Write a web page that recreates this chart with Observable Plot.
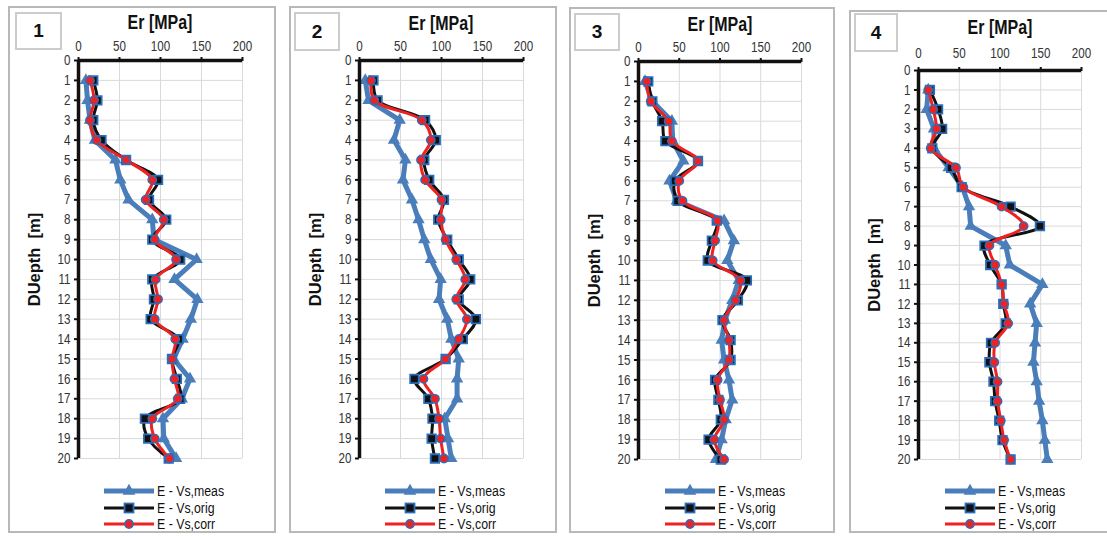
<!DOCTYPE html>
<html><head><meta charset="utf-8">
<script src="https://cdn.jsdelivr.net/npm/d3@7"></script>
<script src="https://cdn.jsdelivr.net/npm/@observablehq/plot@0.6"></script>
<style>
html,body{margin:0;padding:0;background:#fff;}
body{width:1107px;height:536px;position:relative;overflow:hidden;font-family:"Liberation Sans Narrow","Arial Narrow","Liberation Sans",Arial,sans-serif;}
.panel{position:absolute;border:2px solid #b8b8b8;box-sizing:border-box;}
.num{position:absolute;border:2px solid #cccccc;box-sizing:border-box;font:bold 19px "Liberation Sans",Arial,sans-serif;display:flex;align-items:center;justify-content:center;color:#111;}
.title{position:absolute;font-weight:bold;font-size:19.5px;line-height:20px;color:#111;transform:translateX(-50%) scaleX(0.82);white-space:nowrap;}
.chart{position:absolute;}
.leg{position:absolute;font-size:14px;line-height:16px;color:#111;display:flex;align-items:center;white-space:nowrap;}
.leg svg{margin-right:3px;}
.leg span{display:inline-block;transform:scaleX(0.88);transform-origin:left center;}
</style></head><body>
<script>
// ---- data ----
const depth = [1,2,3,4,5,6,7,8,9,10,11,12,13,14,15,16,17,18,19,20];
const depthTicks = [0,1,2,3,4,5,6,7,8,9,10,11,12,13,14,15,16,17,18,19,20];
const erTicks = [0,50,100,150,200];
const panelNames = ["1","2","3","4"];
const seriesNames = ["E - Vs,meas","E - Vs,orig","E - Vs,corr"];
const xTitle = "Er [MPa]";
const yTitle = "DUepth  [m]";

const meas1 = [9,11,14,20,45,51,61,90,92,144,117,145,137,127,116,136,126,103,104,119];
const orig1 = [18,23,18,28,58,97,86,107,90,124,90,92,88,122,114,120,124,81,85,110];
const corr1 = [14,19,14,22,58,90,82,104,93,119,94,97,93,118,114,117,121,90,93,111];

const meas2 = [7,11,49,42,56,53,64,72,79,87,99,97,107,112,121,119,119,104,108,112];
const orig2 = [17,22,80,93,79,85,103,96,107,121,135,121,142,126,105,67,84,89,88,92];
const corr2 = [14,18,76,87,75,80,100,99,105,118,129,118,131,121,105,78,92,97,99,103];

const meas3 = [8,17,41,42,55,38,47,105,117,109,123,115,106,102,105,111,115,107,102,95];
const orig3 = [12,17,29,33,73,45,48,96,90,85,133,122,103,113,113,94,98,101,86,101];
const corr3 = [10,15,37,41,73,50,54,97,94,91,125,119,105,111,111,97,100,105,93,105];

const meas4 = [12,10,19,19,37,54,62,64,107,112,152,137,145,143,141,145,148,152,155,158];
const orig4 = [14,24,29,17,40,53,113,149,81,88,102,104,107,89,87,92,94,99,103,113];
const corr4 = [12,18,22,15,46,55,102,129,87,94,102,105,110,94,93,97,97,101,105,113];

const measAll = [meas1, meas2, meas3, meas4];
const origAll = [orig1, orig2, orig3, orig4];
const corrAll = [corr1, corr2, corr3, corr4];

// ---- styling / layout ----
const BLUE = "#4a7ebb", OUT = "#2a6ebb", RED = "#ee2222", BLACK = "#111";
const layout = [
  {left:8,   top:6,  right:276,  x0:78,  x1:242,  y0:60, y1:458, titleY:22, tickPad:7,  num:[15,12,47,38]},
  {left:289, top:6,  right:557,  x0:359, x1:523,  y0:60, y1:458, titleY:23, tickPad:7,  num:[294,12,46,39]},
  {left:569, top:7,  right:835,  x0:638, x1:801,  y0:61, y1:459, titleY:24, tickPad:7,  num:[574,13,46,38]},
  {left:849, top:10, right:1109, x0:918, x1:1081, y0:70, y1:459, titleY:27, tickPad:10, num:[854,13,44,39]}
];
const legendRows = [491, 507.5, 524];
const panelBottom = 533;

function el(tag, cls, css, text){
  const e = document.createElement(tag);
  if (cls) e.className = cls;
  Object.assign(e.style, css);
  if (text != null) e.textContent = text;
  document.body.appendChild(e);
  return e;
}

layout.forEach((L, i) => {
  el("div","panel",{left:L.left+"px",top:L.top+"px",width:(L.right-L.left)+"px",height:(panelBottom-L.top)+"px"});
  el("div","num",{left:L.num[0]+"px",top:L.num[1]+"px",width:L.num[2]+"px",height:L.num[3]+"px"}, panelNames[i]);
  el("div","title",{left:((L.x0+L.x1)/2)+"px",top:(L.titleY-10)+"px"}, xTitle);

  const rows = depth.map((d,j)=>({d, meas:measAll[i][j], orig:origAll[i][j], corr:corrAll[i][j]}));
  const svgLeft = L.left+2, svgRight = L.right-2, svgTop = L.y0-32, svgBottom = L.y1+10;
  const chart = Plot.plot({
    width: svgRight-svgLeft, height: svgBottom-svgTop,
    marginLeft: L.x0-svgLeft, marginRight: svgRight-L.x1,
    marginTop: L.y0-svgTop, marginBottom: svgBottom-L.y1,
    style: {fontFamily:'"Liberation Sans",Arial,sans-serif', fontSize:"14.5px", color:"#333", background:"transparent", overflow:"visible"},
    x: {domain:[0,200], axis:null},
    y: {domain:[0,20], reverse:true, axis:null},
    marks: [
      Plot.gridX(erTicks.filter(v=>v>0), {stroke:"#d9d9d9", strokeOpacity:1, strokeWidth:1}),
      Plot.gridY(depth, {stroke:"#d9d9d9", strokeOpacity:1, strokeWidth:1}),
      Plot.line(rows, {x:"meas", y:"d", stroke:BLUE, strokeWidth:5, curve:"linear"}),
      Plot.dot(rows, {x:"meas", y:"d", symbol:"triangle", r:4.6, fill:BLUE}),
      Plot.line(rows, {x:"orig", y:"d", stroke:BLACK, strokeWidth:3, curve:"catmull-rom"}),
      Plot.dot(rows, {x:"orig", y:"d", symbol:"square", r:4.8, fill:BLACK, stroke:OUT, strokeWidth:1.8}),
      Plot.line(rows, {x:"corr", y:"d", stroke:RED, strokeWidth:3, curve:"catmull-rom"}),
      Plot.dot(rows, {x:"corr", y:"d", symbol:"circle", r:4.2, fill:RED, stroke:OUT, strokeWidth:1.4}),
      Plot.ruleY([0], {stroke:BLACK, strokeWidth:3.5}),
      Plot.ruleX([0], {stroke:BLACK, strokeWidth:3.5}),
      Plot.axisX({anchor:"top", ticks:erTicks, tickSize:4, tickPadding:L.tickPad-1, label:null, stroke:BLACK, strokeWidth:2}),
      Plot.axisY({anchor:"left", ticks:depthTicks, tickSize:4, tickPadding:4, label:null, tickFormat:d=>String(d), stroke:BLACK, strokeWidth:2}),
      Plot.text([yTitle], {text:d=>d, frameAnchor:"left", rotate:-90, dx:-44, textAnchor:"middle", fontSize:16.5, fontWeight:"bold", fill:"#111"})
    ]
  });
  // condensed look for tick labels (reference uses a narrow face)
  chart.querySelectorAll('g[aria-label="x-axis tick label"] text, g[aria-label="y-axis tick label"] text').forEach(t => {
    const tr = t.getAttribute("transform");
    if (tr) t.setAttribute("transform", tr + " scale(0.8,1)");
  });
  chart.classList.add("chart");
  chart.style.left = svgLeft+"px";
  chart.style.top = svgTop+"px";
  document.body.appendChild(chart);

  // legend
  seriesNames.forEach((name, k) => {
    const row = el("div","leg",{left:(L.left+96)+"px",top:(legendRows[k]-8)+"px"});
    const s = d3.create("svg").attr("width",50).attr("height",16);
    if (k===0){
      s.append("line").attr("x1",0).attr("x2",50).attr("y1",8).attr("y2",8).attr("stroke",BLUE).attr("stroke-width",5);
      s.append("path").attr("transform","translate(25,8)").attr("d",d3.symbol(d3.symbolTriangle,70)()).attr("fill",BLUE);
    } else if (k===1){
      s.append("line").attr("x1",0).attr("x2",50).attr("y1",8).attr("y2",8).attr("stroke",BLACK).attr("stroke-width",3);
      s.append("rect").attr("x",20.5).attr("y",3.5).attr("width",9).attr("height",9).attr("fill",BLACK).attr("stroke",OUT).attr("stroke-width",1.8);
    } else {
      s.append("line").attr("x1",0).attr("x2",50).attr("y1",8).attr("y2",8).attr("stroke",RED).attr("stroke-width",3);
      s.append("circle").attr("cx",25).attr("cy",8).attr("r",4.2).attr("fill",RED).attr("stroke",OUT).attr("stroke-width",1.4);
    }
    row.appendChild(s.node());
    const t = document.createElement("span"); t.textContent = name; row.appendChild(t);
  });
});
</script>
</body></html>
